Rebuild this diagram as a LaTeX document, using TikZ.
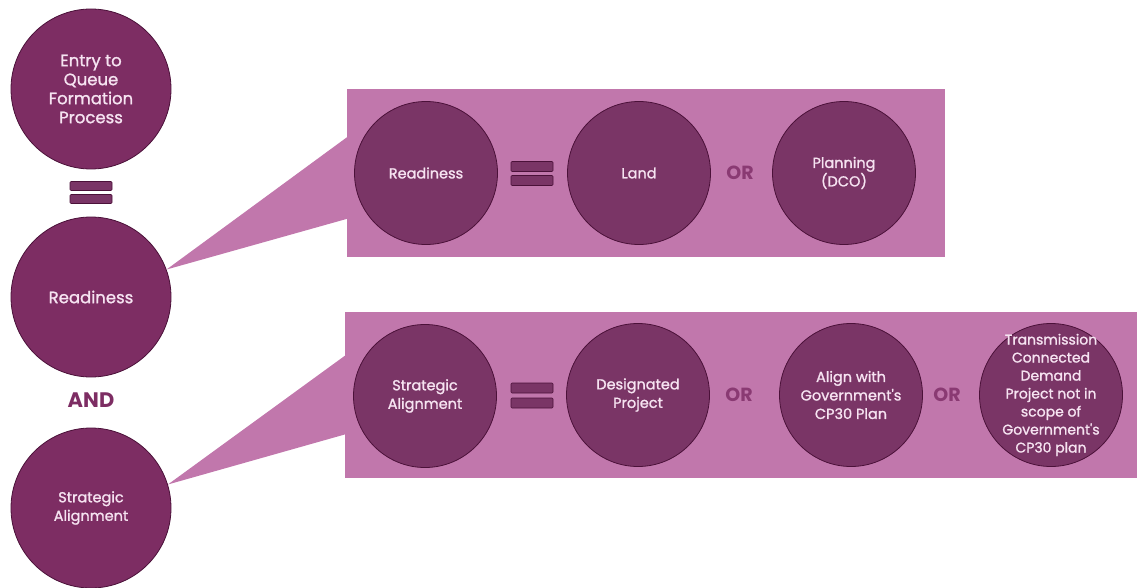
\documentclass[tikz,border=0pt]{standalone}
\usepackage{fontspec}
\setmainfont{Poppins}
\newfontfamily\dotfont{Poppins}[FakeBold=1.3]
\usepackage{xcolor}
\definecolor{plum}{HTML}{7D2D63}
\definecolor{pluminner}{HTML}{7A3566}
\definecolor{plumedge}{HTML}{4B1139}
\definecolor{panelpink}{HTML}{C177AC}
\definecolor{textpink}{HTML}{F6E3F1}
\definecolor{orpink}{HTML}{8A3A73}

\begin{document}
\begin{tikzpicture}[x=1pt,y=-1pt,
        bigdot/.style={circle,fill=plum,draw=plumedge,line width=0.8pt,minimum size=160pt,inner sep=0pt,align=center,text=textpink,font=\dotfont\fontsize{14.5}{18.5}\selectfont},
        smalldot/.style={bigdot,fill=pluminner,minimum size=143pt},
        dottext/.style={align=center,text=textpink,font=\dotfont\fontsize{14}{18}\selectfont},
        eqbar/.style={rectangle,rounded corners=1pt,fill=pluminner,draw=plumedge,line width=0.6pt,minimum width=42pt,minimum height=9pt,inner sep=0pt},
        ortext/.style={text=orpink,font=\fontsize{19}{19}\selectfont\bfseries}]
        \useasboundingbox (0,0) rectangle (1137,588);
        \fill[panelpink] (347,89) rectangle (945,257);
        \fill[panelpink] (345,312) rectangle (1137,478);
        \node[bigdot,font=\dotfont\fontsize{16.5}{19}\selectfont] (entry) at (91,89) {Entry to\\Queue\\Formation\\Process};
        \node[eqbar] (eqtop) at (91,186) {};
        \node[eqbar] (eqbot) at (91,199) {};
        \node[bigdot,font=\dotfont\fontsize{16.5}{19}\selectfont] (rd) at (91,297) {Readiness};
        \node[text=plum,font=\fontsize{21}{21}\selectfont\bfseries] (andword) at (91,400) {AND};
        \node[bigdot] (sa) at (91,508) {Strategic\\Alignment};
        \fill[panelpink] (rd.20) -- (350,135) -- (350,218) -- cycle;
        \fill[panelpink] (sa.17) -- (350,352) -- (350,433) -- cycle;
        \node[smalldot] (rdin) at (426,173) {Readiness};
        \node[eqbar,minimum height=10pt] (eqa1) at (532,166.5) {};
        \node[eqbar,minimum height=10pt] (eqa2) at (532,180.5) {};
        \node[smalldot] (land) at (639,173) {Land};
        \node[ortext] (or1) at (740,173) {OR};
        \node[smalldot] (plan) at (844,173) {Planning\\(DCO)};
        \node[smalldot] (sain) at (425,396) {Strategic\\Alignment};
        \node[eqbar,minimum height=10pt] (eqb1) at (532,388) {};
        \node[eqbar,minimum height=10pt] (eqb2) at (532,403) {};
        \node[smalldot] (desig) at (638,395) {Designated\\Project};
        \node[ortext] (or2) at (739,395) {OR};
        \node[smalldot] (cpalign) at (851,395) {Align with\\Government's\\CP30 Plan};
        \node[ortext] (or3) at (947,395) {OR};
        \node[smalldot] (tcd) at (1051,395) {};
        \node[dottext] (tcdtext) at (tcd) {Transmission\\Connected\\Demand\\Project not in\\scope of\\Government's\\CP30 plan};
\end{tikzpicture}
\end{document}
